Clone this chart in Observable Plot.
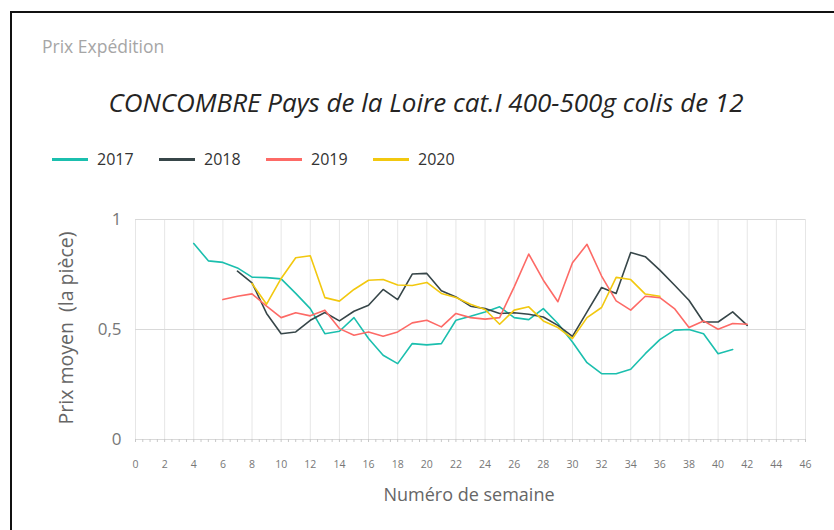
<!DOCTYPE html>
<html>
<head>
<meta charset="utf-8">
<script src="https://cdn.jsdelivr.net/npm/d3@7"></script>
<script src="https://cdn.jsdelivr.net/npm/@observablehq/plot@0.6"></script>
<style>
  html, body { margin: 0; padding: 0; background: #fff; }
  body { width: 834px; height: 530px; position: relative; overflow: hidden; font-family: "Open Sans", "Noto Sans", sans-serif; }
  #frame { position: absolute; left: 10px; top: 11px; width: 840px; height: 540px; border-left: 2px solid #111; border-top: 2px solid #111; }
  #sub { position: absolute; left: 42px; top: 34px; font-size: 17.5px; color: #a6a6a6; }
  #title { position: absolute; left: 0; width: 852px; top: 84px; text-align: center; font-size: 26px; font-style: italic; color: #252423; }
  #legend { position: absolute; left: 52px; top: 148px; display: flex; font-size: 16px; color: #333; }
  .item { display: flex; align-items: center; width: 107px; }
  .sw { width: 36px; height: 3px; margin-right: 9px; }
  #ylab { position: absolute; left: 65px; top: 328px; transform: translate(-50%, -50%) rotate(-90deg); font-size: 19.5px; color: #666; white-space: pre; }
  #xlab { position: absolute; left: 0; width: 938px; top: 482px; text-align: center; font-size: 18px; color: #666; }
  #chart { position: absolute; left: 0; top: 190px; }
</style>
</head>
<body>
<div id="frame"></div>
<div id="sub">Prix Expédition</div>
<div id="title">CONCOMBRE Pays de la Loire cat.I 400-500g colis de 12</div>
<div id="legend"></div>
<div id="ylab">Prix moyen  (la pièce)</div>
<div id="xlab">Numéro de semaine</div>
<div id="chart"></div>
<script>
const years = ["2017", "2018", "2019", "2020"];
const colors = ["#1BBFAE", "#374649", "#FD6A66", "#F2C80F"];

const weeks2017 = [4,5,6,7,8,9,10,11,12,13,14,15,16,17,18,19,20,21,22,23,24,25,26,27,28,29,30,31,32,33,34,35,36,37,38,39,40,41];
const values2017 = [0.891,0.812,0.805,0.780,0.738,0.736,0.730,0.664,0.595,0.481,0.492,0.554,0.459,0.383,0.345,0.436,0.430,0.436,0.542,0.560,0.580,0.603,0.554,0.545,0.595,0.527,0.443,0.349,0.299,0.299,0.319,0.390,0.454,0.497,0.500,0.481,0.390,0.409];

const weeks2018 = [7,8,9,10,11,12,13,14,15,16,17,18,19,20,21,22,23,24,25,26,27,28,29,30,31,32,33,34,35,36,37,38,39,40,41,42];
const values2018 = [0.765,0.712,0.573,0.481,0.489,0.542,0.577,0.539,0.583,0.610,0.682,0.636,0.752,0.755,0.676,0.648,0.606,0.595,0.573,0.576,0.569,0.557,0.519,0.469,0.580,0.691,0.664,0.850,0.831,0.770,0.702,0.633,0.534,0.534,0.580,0.519];

const weeks2019 = [6,7,8,9,10,11,12,13,14,15,16,17,18,19,20,21,22,23,24,25,26,27,28,29,30,31,32,33,34,35,36,37,38,39,40,41,42];
const values2019 = [0.636,0.651,0.662,0.606,0.554,0.576,0.562,0.588,0.504,0.474,0.489,0.469,0.489,0.530,0.542,0.512,0.573,0.554,0.547,0.554,0.694,0.843,0.724,0.626,0.803,0.887,0.743,0.630,0.588,0.651,0.645,0.595,0.509,0.539,0.501,0.527,0.524];

const weeks2020 = [8,9,10,11,12,13,14,15,16,17,18,19,20,21,22,23,24,25,26,27,28,29,30,31,32,33,34,35,36];
const values2020 = [0.709,0.615,0.732,0.826,0.835,0.645,0.629,0.682,0.724,0.727,0.702,0.700,0.714,0.664,0.645,0.615,0.591,0.524,0.588,0.603,0.539,0.509,0.459,0.554,0.600,0.737,0.727,0.661,0.651];

const xTicks = [0,2,4,6,8,10,12,14,16,18,20,22,24,26,28,30,32,34,36,38,40,42,44,46];
const xMinorTicks = d3.range(0, 46.5, 0.5);
const yTicks = [0, 0.5, 1];

const series = [
  [years[0], weeks2017, values2017],
  [years[1], weeks2018, values2018],
  [years[2], weeks2019, values2019],
  [years[3], weeks2020, values2020]
];
const data = series.flatMap(([year, w, v]) => w.map((week, i) => ({year, week, price: v[i]})));

// legend
const legend = document.getElementById("legend");
years.forEach((y, i) => {
  const it = document.createElement("div");
  it.className = "item";
  it.innerHTML = `<span class="sw" style="background:${colors[i]}"></span><span>${y}</span>`;
  legend.appendChild(it);
});

const chart = Plot.plot({
  width: 834,
  height: 340,
  marginLeft: 135,
  marginRight: 29,
  marginTop: 29,
  marginBottom: 91,
  style: { fontFamily: "'Open Sans', 'Noto Sans', sans-serif", background: "transparent" },
  x: { domain: [0, 46] },
  y: { domain: [0, 1] },
  color: { domain: years, range: colors },
  marks: [
    Plot.gridX(xTicks, { stroke: "#e6e6e6", strokeOpacity: 1 }),
    Plot.gridY([0.5, 1], { stroke: "#d9d9d9", strokeOpacity: 1 }),
    Plot.ruleY([0], { stroke: "#d9d9d9" }),
    Plot.axisX({ ticks: xMinorTicks, tickSize: 3, tickFormat: () => "", stroke: "#c8c8c8", label: null }),
    Plot.axisX({ ticks: xTicks, tickSize: 0, tickPadding: 21, fontSize: 10.5, fill: "#777", label: null }),
    Plot.axisY({ ticks: yTicks, tickSize: 0, tickPadding: 14, fontSize: 17, fill: "#777", label: null,
                 tickFormat: d => String(d).replace(".", ",") }),
    Plot.line(data, { x: "week", y: "price", z: "year", stroke: "year", strokeWidth: 1.6 })
  ]
});
document.getElementById("chart").appendChild(chart);
</script>
</body>
</html>
